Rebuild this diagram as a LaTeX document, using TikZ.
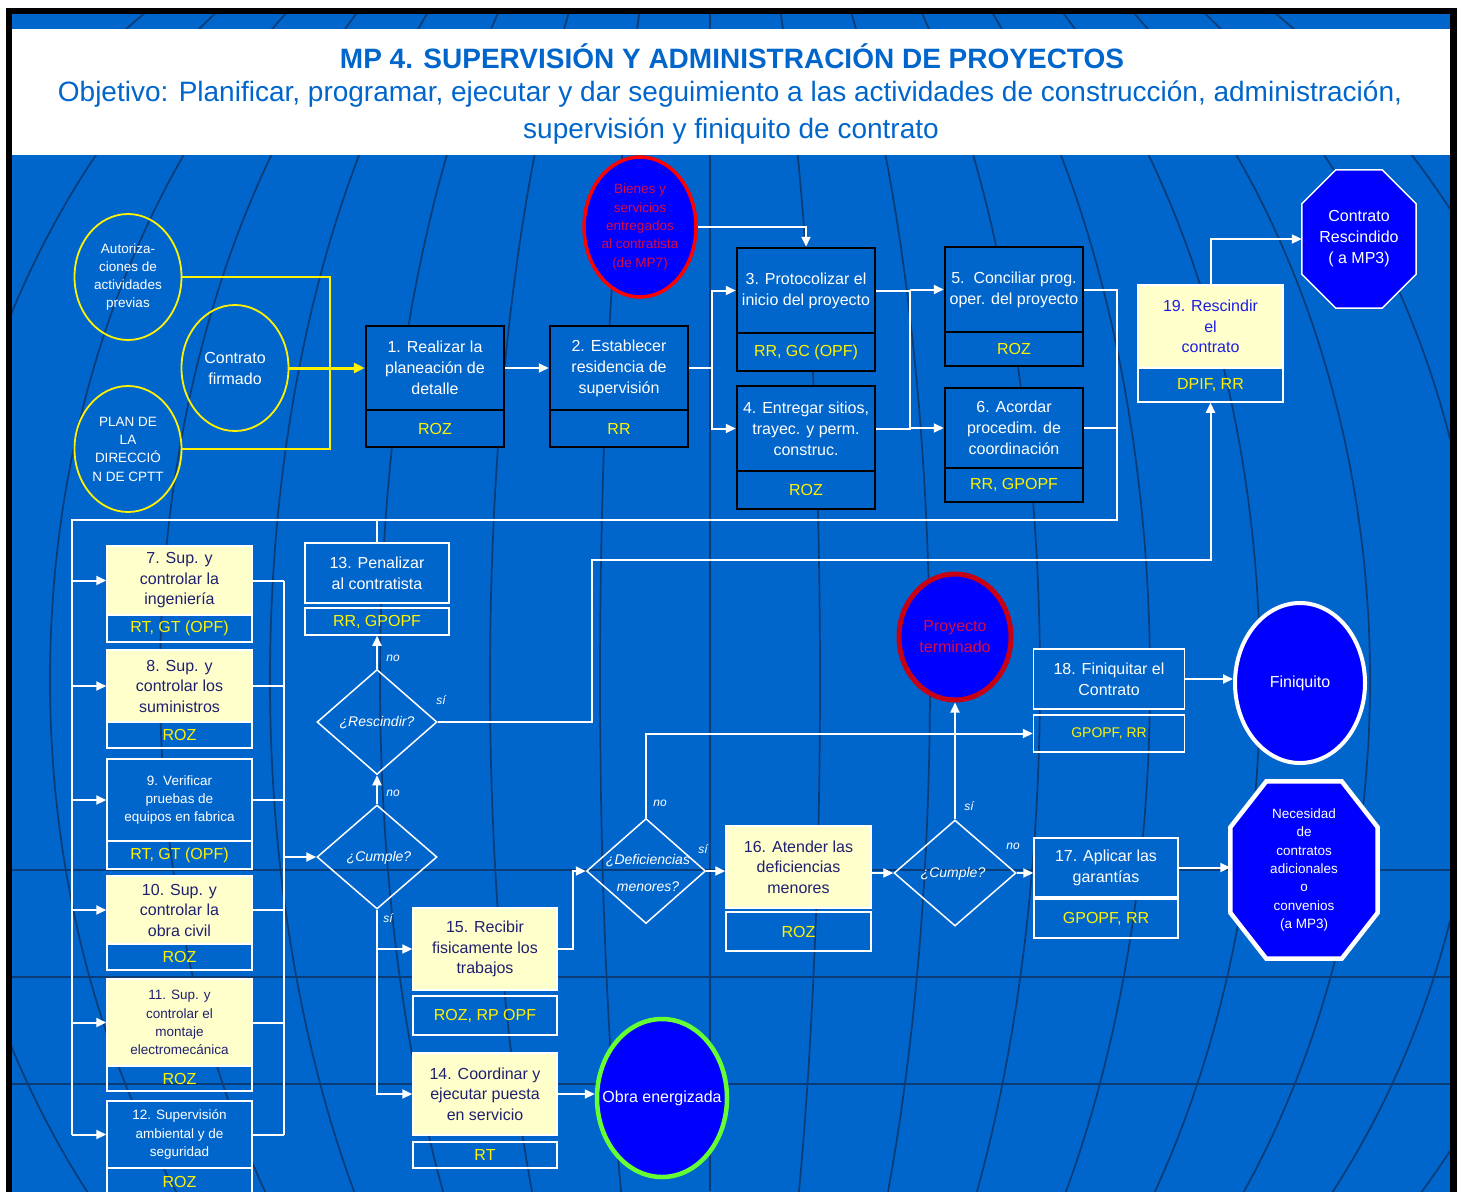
\documentclass[tikz,border=0pt]{standalone}
\usepackage{fontspec}
\setmainfont{Liberation Sans}
\usetikzlibrary{arrows.meta,shapes.geometric,calc}

\definecolor{bgblue}{RGB}{0,102,204}
\definecolor{deepblue}{RGB}{0,0,255}
\definecolor{paleyel}{RGB}{255,255,204}
\definecolor{navytxt}{RGB}{32,32,112}
\definecolor{brighttxt}{RGB}{30,30,225}
\definecolor{gridcol}{RGB}{10,60,120}
\definecolor{redtxt}{RGB}{214,10,70}
\definecolor{darkred}{RGB}{200,0,20}
\definecolor{limegreen}{RGB}{102,255,51}

\newcommand{\fsz}[2]{\fontsize{#1}{#2}\selectfont}

\begin{document}
\begin{tikzpicture}[x=1pt,y=-1pt,
  grid/.style={draw=gridcol, line width=1.7pt},
  wire/.style={draw=white, line width=2pt},
  arr/.style={wire, -{Triangle[length=10pt,width=9pt]}},
  yline/.style={draw=yellow, line width=2pt},
  yarr/.style={draw=yellow, line width=3pt, -{Triangle[length=11pt,width=10pt]}},
  blk/.style={rectangle, draw=black, line width=2.5pt, fill=bgblue, text=white,
    inner sep=0pt, align=center, font=\fsz{16}{21}},
  blkr/.style={blk, text=yellow},
  ylw/.style={rectangle, draw=white, line width=1.5pt, fill=paleyel, text=navytxt,
    inner sep=0pt, align=center, font=\fsz{16}{20.5}},
  wbox/.style={rectangle, draw=white, line width=1.5pt, fill=bgblue, text=white,
    inner sep=0pt, align=center, font=\fsz{13.5}{18.3}},
  resp/.style={rectangle, draw=white, line width=1.5pt, text=yellow,
    inner sep=0pt, align=center, font=\fsz{16}{20}},
  inell/.style={ellipse, draw=yellow, line width=1.8pt, text=white, align=center, inner sep=0pt},
  endell/.style={ellipse, fill=deepblue, align=center, inner sep=0pt},
  ctext/.style={align=center, inner sep=0pt},
  decis/.style={diamond, draw=white, line width=1.5pt, inner sep=0pt},
  dtxt/.style={text=white, font=\fsz{14}{18}\itshape, inner sep=0pt},
  lbl/.style={text=white, font=\fsz{12}{14}\itshape, inner sep=0pt}
]
\useasboundingbox (0,0) rectangle (1461,1191);

% frame and background
\fill[white] (0,0) rectangle (1461,1191);
\fill[black] (6,8) rectangle (1457,1200);
\fill[bgblue] (12,14) rectangle (1450,1200);

% globe meridians and parallels
\begin{scope}
  \clip (12,14) rectangle (1450,1191);
  \foreach \a in {110,220,330,440,550,660,770,880}
    \draw[grid] (710,680) ellipse [x radius=\a pt, y radius=870pt];
  \draw[grid] (710,0) -- (710,1191);
  \foreach \yy in {870,977,1084}
    \draw[grid] (12,\yy) -- (1450,\yy);
\end{scope}

% title band
\fill[white] (12,29) rectangle (1450,155);
\node[text=bgblue, font=\bfseries\fsz{28}{32}, inner sep=0pt] (title) at (732,56)
  {MP 4. SUPERVISIÓN Y ADMINISTRACIÓN DE PROYECTOS};
\node[text=bgblue, font=\fsz{28}{32}, inner sep=0pt] (obj1) at (730,94)
  {Objetivo: Planificar, programar, ejecutar y dar seguimiento a las actividades de construcción, administración,};
\node[text=bgblue, font=\fsz{28}{32}, inner sep=0pt] (obj2) at (731,131)
  {supervisión y finiquito de contrato};

% inputs
\node[inell, minimum width=107pt, minimum height=126pt, font=\fsz{13.5}{18.3}] (e1) at (128,277)
  {Autoriza-\\ciones de\\actividades\\previas};
\node[inell, minimum width=107pt, minimum height=126pt, font=\fsz{16}{21}] (e2) at (235,368)
  {Contrato\\firmado};
\node[inell, minimum width=107pt, minimum height=126pt, font=\fsz{13.5}{18.3}] (e3) at (128,449)
  {PLAN DE\\LA\\DIRECCIÓ\\N DE CPTT};
\node[endell, draw=red, line width=3.5pt, minimum width=112pt, minimum height=140pt] (bienes) at (640,227) {};
\node[ctext, text=redtxt, font=\fsz{13.5}{18.3}] (bienest) at (bienes.center)
  {Bienes y\\servicios\\entregados\\al contratista\\(de MP7)};

% upper process boxes
\node[blk, minimum width=138pt, minimum height=84pt] (b1) at (435,368) {1. Realizar la\\planeación de\\detalle};
\node[blkr, minimum width=138pt, minimum height=37pt] (b1r) at (435,428.5) {ROZ};
\node[blk, minimum width=138pt, minimum height=84pt] (b2) at (619,368) {2. Establecer\\residencia de\\supervisión};
\node[blkr, minimum width=138pt, minimum height=37pt] (b2r) at (619,428.5) {RR};
\node[blk, minimum width=138pt, minimum height=85pt] (b3) at (806,290.5) {3. Protocolizar el\\inicio del proyecto};
\node[blkr, minimum width=138pt, minimum height=38pt] (b3r) at (806,352) {RR, GC (OPF)};
\node[blk, minimum width=138pt, minimum height=85pt] (b4) at (806,428.5) {4. Entregar sitios,\\trayec. y perm.\\construc.};
\node[blkr, minimum width=138pt, minimum height=38pt] (b4r) at (806,490) {ROZ};
\node[blk, minimum width=138pt, minimum height=85pt] (b5) at (1014,289.5) {5.\ \ Conciliar prog.\\oper. del proyecto};
\node[blkr, minimum width=138pt, minimum height=34pt] (b5r) at (1014,349) {ROZ};
\node[blk, minimum width=138pt, minimum height=80pt] (b6) at (1014,428) {6. Acordar\\procedim. de\\coordinación};
\node[blkr, minimum width=138pt, minimum height=34pt] (b6r) at (1014,485) {RR, GPOPF};

% rescission
\node[ylw, text=brighttxt, minimum width=145pt, minimum height=83pt] (b19) at (1210.5,326.5) {19. Rescindir\\el\\contrato};
\node[resp, minimum width=145pt, minimum height=34pt] (b19r) at (1210.5,385) {DPIF, RR};
\node[minimum width=114pt, minimum height=138pt, inner sep=0pt] (cr) at (1359,239) {};
\filldraw[fill=deepblue, draw=white, line width=1.5pt]
  ($(cr.north west)+(34pt,0)$) -- ($(cr.north east)+(-34pt,0)$) -- ($(cr.north east)+(0,-34pt)$)
  -- ($(cr.south east)+(0,34pt)$) -- ($(cr.south east)+(-34pt,0)$) -- ($(cr.south west)+(34pt,0)$)
  -- ($(cr.south west)+(0,34pt)$) -- ($(cr.north west)+(0,-34pt)$) -- cycle;
\node[ctext, text=white, font=\fsz{16}{21}] (crt) at (cr.center) {Contrato\\Rescindido\\( a MP3)};

% supervision boxes
\node[ylw, minimum width=145pt, minimum height=69pt] (b7) at (179.5,580.5) {7. Sup. y\\controlar la\\ingeniería};
\node[resp, minimum width=145pt, minimum height=27pt] (b7r) at (179.5,628.5) {RT, GT (OPF)};
\node[ylw, minimum width=145pt, minimum height=72pt] (b8) at (179.5,686) {8. Sup. y\\controlar los\\suministros};
\node[resp, minimum width=145pt, minimum height=26pt] (b8r) at (179.5,735) {ROZ};
\node[wbox, minimum width=145pt, minimum height=82pt] (b9) at (179.5,800) {9. Verificar\\pruebas de\\equipos en fabrica};
\node[resp, minimum width=145pt, minimum height=28pt] (b9r) at (179.5,855) {RT, GT (OPF)};
\node[ylw, minimum width=145pt, minimum height=68pt] (b10) at (179.5,910) {10. Sup. y\\controlar la\\obra civil};
\node[resp, minimum width=145pt, minimum height=26pt] (b10r) at (179.5,957) {ROZ};
\node[ylw, minimum width=145pt, minimum height=87pt, font=\fsz{13.5}{18.3}] (b11) at (179.5,1022.5) {11. Sup. y\\controlar el\\montaje\\electromecánica};
\node[resp, minimum width=145pt, minimum height=25pt] (b11r) at (179.5,1078.5) {ROZ};
\node[wbox, minimum width=145pt, minimum height=67pt] (b12) at (179.5,1134.5) {12. Supervisión\\ambiental y de\\seguridad};
\node[resp, minimum width=145pt, minimum height=28pt] (b12r) at (179.5,1182) {ROZ};

\node[wbox, font=\fsz{16}{21}, minimum width=144pt, minimum height=60pt] (b13) at (377,573) {13. Penalizar\\al contratista};
\node[resp, minimum width=144pt, minimum height=27pt] (b13r) at (377,621.5) {RR, GPOPF};

% decisions
\node[decis, minimum width=120pt, minimum height=104pt] (d1) at (377,857) {};
\node[dtxt] (d1t) at (379,858) {¿Cumple?};
\node[decis, minimum width=120pt, minimum height=105pt] (d2) at (377,722) {};
\node[dtxt] (d2t) at (377,723) {¿Rescindir?};
\node[decis, minimum width=119pt, minimum height=105pt] (d3) at (646,871) {};
\node[dtxt, align=center, font=\fsz{14}{27}\itshape] (d3t) at (648,873) {¿Deficiencias\\menores?};
\node[decis, minimum width=122pt, minimum height=106pt] (d4) at (955,873) {};
\node[dtxt] (d4t) at (953,874) {¿Cumple?};

% completion boxes
\node[ylw, minimum width=144pt, minimum height=82pt] (b15) at (485,949) {15. Recibir\\fisicamente los\\trabajos};
\node[resp, minimum width=144pt, minimum height=39pt] (b15r) at (485,1015.5) {ROZ, RP OPF};
\node[ylw, minimum width=144pt, minimum height=82pt] (b14) at (485,1094) {14. Coordinar y\\ejecutar puesta\\en servicio};
\node[resp, minimum width=144pt, minimum height=26pt] (b14r) at (485,1155) {RT};
\node[ylw, minimum width=145pt, minimum height=82pt] (b16) at (798.5,867) {16. Atender las\\deficiencias\\menores};
\node[resp, minimum width=145pt, minimum height=39pt] (b16r) at (798.5,931.5) {ROZ};
\node[wbox, font=\fsz{16}{21}, minimum width=144pt, minimum height=59pt] (b17) at (1106,867.5) {17. Aplicar las\\garantías};
\node[resp, minimum width=144pt, minimum height=39pt] (b17r) at (1106,918.5) {GPOPF, RR};
\node[wbox, font=\fsz{16}{21}, minimum width=151pt, minimum height=60pt] (b18) at (1109,679) {18. Finiquitar el\\Contrato};
\node[resp, font=\fsz{14}{18}, minimum width=151pt, minimum height=37pt] (b18r) at (1109,733.5) {GPOPF, RR};

% outcomes
\node[endell, draw=darkred, line width=5pt, minimum width=112pt, minimum height=126pt] (pt) at (955,637) {};
\node[ctext, text=redtxt, font=\fsz{16}{21}] (ptt) at (pt.center) {Proyecto\\terminado};
\node[endell, draw=white, line width=4pt, minimum width=130pt, minimum height=160pt] (fin) at (1300,683) {};
\node[ctext, text=white, font=\fsz{16}{21}] (fint) at (fin.center) {Finiquito};
\node[endell, draw=limegreen, line width=4.5pt, minimum width=130pt, minimum height=158pt] (obra) at (662,1098) {};
\node[ctext, text=white, font=\fsz{16}{21}] (obrat) at (obra.center) {Obra energizada};
\node[minimum width=147pt, minimum height=177pt, inner sep=0pt] (nec) at (1304,870) {};
\filldraw[fill=deepblue, draw=white, line width=4.5pt]
  ($(nec.north west)+(36pt,0)$) -- ($(nec.north east)+(-36pt,0)$) -- ($(nec.north east)+(0,-46pt)$)
  -- ($(nec.south east)+(0,46pt)$) -- ($(nec.south east)+(-36pt,0)$) -- ($(nec.south west)+(36pt,0)$)
  -- ($(nec.south west)+(0,46pt)$) -- ($(nec.north west)+(0,-46pt)$) -- cycle;
\node[ctext, text=white, font=\fsz{13.5}{18.3}] (nect) at (nec.center)
  {Necesidad\\de\\contratos\\adicionales\\o\\convenios\\(a MP3)};

% connectors: inputs
\coordinate (ybr) at (330,368);
\draw[yline] (e1.east) -| (ybr) |- (e3.east);
\draw[yarr] (e2.east) -- (b1.west);
\draw[arr] (b1.east) -- (b2.west);
\coordinate (j1) at (712,368);
\draw[wire] (b2.east) -- (j1);
\draw[arr] (j1) |- (b3.west);
\draw[arr] (j1) |- (b4.west);
\draw[arr] (bienes.east) -| (b3.north);
\coordinate (j2) at (910,360);
\draw[wire] (b3.east) -- (b3.east -| j2) -- (b4.east -| j2) -- (b4.east);
\draw[arr] (b5.west -| j2) -- (b5.west);
\draw[arr] (b6.west -| j2) -- (b6.west);

% return line and left bus
\coordinate (j3) at (1117,520);
\coordinate (lt) at (72,520);
\coordinate (lb) at (72,1134.5);
\draw[wire] (b5.east) -| (j3) -- (lt) -- (lb);
\draw[wire] (b6.east) -- (b6.east -| j3);
\draw[wire] (b13.north |- lt) -- (b13.north);
\foreach \b in {b7,b8,b9,b10,b11,b12}
  \draw[arr] (\b.west -| lt) -- (\b.west);

% right bus into the first check
\coordinate (rt) at (284,580.5);
\foreach \b in {b7,b8,b9,b10,b11,b12}
  \draw[wire] (\b.east) -- (\b.east -| rt);
\draw[wire] (b7.east -| rt) -- (b12.east -| rt);
\draw[arr] (d1.west -| rt) -- (d1.west);

% decision flow
\draw[arr] (d1.north) -- (d2.south);
\node[lbl] (l1) at (393,793) {no};
\draw[arr] (d2.north) -- (b13r.south);
\node[lbl] (l2) at (393,658) {no};
\coordinate (k1) at (592,560);
\draw[arr] (d2.east) -| (k1) -| (b19r.south);
\node[lbl] (l3) at (441,700) {sí};
\draw[arr] (b19.north) |- (cr.west);
\draw[arr] (d1.south) |- (b15.west);
\draw[arr] (d1.south) |- (b14.west);
\node[lbl] (l4) at (388,918) {sí};
\draw[arr] (b14.east) -- (obra.west |- b14.east);
\coordinate (k2) at (573,871);
\draw[arr] (b15.east) -| (k2) -- (d3.west);
\draw[arr] (d3.east) -- (b16.west |- d3.east);
\node[lbl] (l5) at (703,849) {sí};
\draw[arr] (d3.north) |- (b18r.west);
\node[lbl] (l6) at (660,803) {no};
\draw[arr] (b16.east |- d4.west) -- (d4.west);
\draw[arr] (d4.north) -- (pt.south);
\node[lbl] (l7) at (969,806) {sí};
\draw[arr] (d4.east) -- (b17.west |- d4.east);
\node[lbl] (l8) at (1013,846) {no};
\draw[arr] (b17.east) -- (nec.west |- b17.east);
\draw[arr] (b18.east) -- (fin.west |- b18.east);
\end{tikzpicture}
\end{document}
